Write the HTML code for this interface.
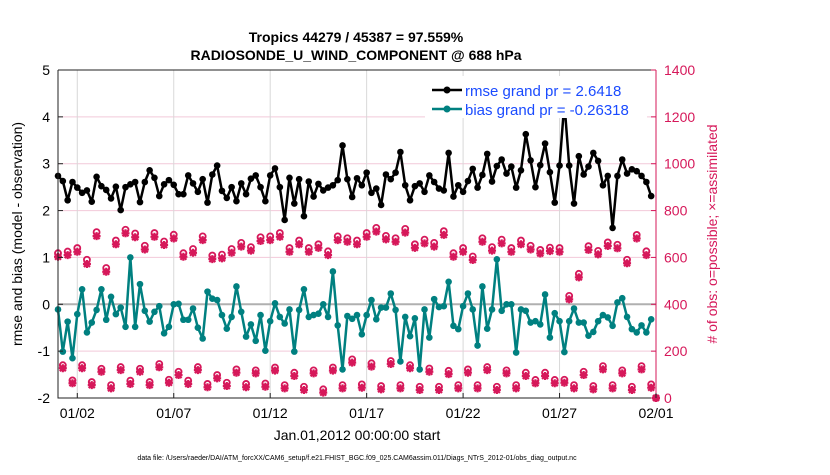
<!DOCTYPE html>
<html><head><meta charset="utf-8"><style>
body{margin:0;background:#fff;}
svg text{font-family:"Liberation Sans",sans-serif;}
</style></head><body>
<svg id="chart" width="830" height="470" xmlns="http://www.w3.org/2000/svg">
<text x="356" y="42" text-anchor="middle" font-size="14" font-weight="bold">Tropics 44279 / 45387 = 97.559%</text>
<text x="356" y="60" text-anchor="middle" font-size="14" font-weight="bold">RADIOSONDE_U_WIND_COMPONENT @ 688 hPa</text>
<g id="grid"></g>
<g id="marks"></g>
<g id="axes"></g>
<text transform="translate(22,234) rotate(-90)" text-anchor="middle" font-size="14">rmse and bias (model - observation)</text>
<text transform="translate(717,234) rotate(-90)" text-anchor="middle" font-size="14" fill="#d6185a"># of obs: o=possible; ×=assimilated</text>
<text x="357" y="440" text-anchor="middle" font-size="14">Jan.01,2012 00:00:00 start</text>
<text x="357" y="460" text-anchor="middle" font-size="7">data file: /Users/raeder/DAI/ATM_forcXX/CAM6_setup/f.e21.FHIST_BGC.f09_025.CAM6assim.011/Diags_NTrS_2012-01/obs_diag_output.nc</text>
<g>
<rect x="425" y="76" width="222" height="42" fill="#fff"/>
<line x1="432" y1="90" x2="462" y2="90" stroke="#000" stroke-width="2.5"/>
<circle cx="447" cy="90" r="3.5" fill="#000"/>
<text x="465" y="96" font-size="15" fill="#1a4bff">rmse grand pr = 2.6418</text>
<line x1="432" y1="109" x2="462" y2="109" stroke="#008080" stroke-width="2.5"/>
<circle cx="447" cy="109" r="3.5" fill="#008080"/>
<text x="465" y="115" font-size="15" fill="#1a4bff">bias grand pr = -0.26318</text>
</g>
</svg>
<script>
const rmse=[2.74,2.63,2.22,2.61,2.49,2.38,2.43,2.19,2.72,2.52,2.44,2.26,2.51,2.01,2.5,2.56,2.61,2.18,2.61,2.86,2.7,2.31,2.56,2.65,2.55,2.35,2.35,2.75,2.58,2.4,2.67,2.17,2.77,2.96,2.42,2.27,2.5,2.2,2.58,2.35,2.68,2.75,
2.5,2.2,2.75,2.9,2.5,1.8,2.7,2.15,2.67,1.88,2.62,2.3,2.57,2.43,2.49,2.54,2.65,3.39,2.67,2.29,2.69,2.54,2.81,2.38,2.47,2.12,2.77,2.67,2.81,3.25,2.54,2.22,2.52,2.58,2.4,2.75,2.61,2.47,2.43,3.23,2.3,2.54,
2.4,2.63,2.89,2.49,2.76,3.21,2.62,2.95,3.09,2.79,2.94,2.49,2.86,3.63,3.07,2.5,2.97,3.43,2.82,2.17,2.96,4.3,2.96,2.15,3.16,2.77,2.94,3.23,3.06,2.54,2.74,1.63,2.74,3.09,2.79,2.88,2.84,2.74,2.61,2.31];
const bias=[-0.11,-1.01,-0.37,-1.15,-0.21,0.32,-0.6,-0.39,-0.12,0.32,-0.33,0.16,-0.21,-0.07,-0.48,1.0,-0.48,0.43,-0.14,-0.37,-0.16,-0.04,-0.62,-0.48,0,0.01,-0.33,-0.33,-0.09,-0.5,-0.73,0.27,0.12,0.09,-0.23,-0.52,-0.27,0.38,-0.16,-0.69,-0.43,-0.78,
-0.23,-0.99,-0.36,0.02,-0.27,-0.41,-0.11,-1.01,-0.12,0.32,-0.27,-0.23,-0.2,0,-0.27,0.7,-0.45,-1.39,-0.25,-0.31,-0.23,-0.64,-0.23,0.09,-0.32,-0.07,-0.07,0.23,-0.12,-1.22,-0.27,-0.68,-0.3,-1.39,-0.11,-0.71,0.11,-0.06,-0.04,0.48,-0.46,
-0.53,-0.04,0.23,-0.11,-0.88,0.38,-0.52,-0.11,0.96,-0.14,0,0,-1.03,-0.11,-0.14,-0.39,-0.36,-0.43,0.21,-0.71,-0.19,-0.36,-1.02,-0.36,-0.09,-0.39,-0.39,-0.67,-0.59,-0.36,-0.23,-0.28,-0.46,0.04,0.13,-0.27,-0.53,-0.6,-0.45,-0.6,-0.32];
const obsAssim=[603,127,610,63,624,127,572,55,691,112,539,41,656,119,703,60,686,112,634,55,688,131,653,65,681,98,603,60,620,119,674,46,593,84,596,51,620,108,646,46,629,105,
670,48,674,117,688,41,624,94,656,34,624,105,641,23,610,117,674,41,667,151,656,44,688,134,710,37,677,145,667,41,706,127,641,34,660,112,646,34,696,102,603,41,
624,108,589,41,667,119,629,34,660,105,624,41,656,94,634,63,617,94,627,63,624,65,421,41,515,98,632,37,613,122,649,41,639,105,575,34,681,122,610,44,0];
const obsPossible=[618,140,625,75,640,140,590,68,708,125,555,55,672,132,718,74,702,125,650,68,704,145,668,78,697,112,618,74,636,132,690,60,608,98,612,65,636,122,662,60,644,118,
686,62,690,130,704,55,640,108,672,48,640,118,656,37,626,130,690,55,682,165,672,58,704,148,726,51,692,158,682,55,722,140,656,48,676,126,662,48,712,116,618,55,
640,122,604,55,682,132,644,48,676,118,640,55,672,108,650,77,632,108,642,77,640,78,436,55,530,112,648,51,628,136,664,55,654,118,590,48,696,136,626,58,0];
const xTickDays=[1,6,11,16,21,26,31];
const xTickLabels=["01/02","01/07","01/12","01/17","01/22","01/27","02/01"];
const yTicks=[-2,-1,0,1,2,3,4,5];
const rTicks=[0,200,400,600,800,1000,1200,1400];

const X0=58,X1=656,Y0=70,Y1=398;
const xs=d=>X0+(d/31)*(X1-X0);
const ys=v=>Y0+(5-v)/7*(Y1-Y0);
const yr=c=>Y1-c/1400*(Y1-Y0);
const xi=i=>xs(i*0.25);
const NS="http://www.w3.org/2000/svg";
function mk(tag,attrs,parent){const e=document.createElementNS(NS,tag);for(const k in attrs)e.setAttribute(k,attrs[k]);parent.appendChild(e);return e;}
const grid=document.getElementById('grid'),marks=document.getElementById('marks'),axes=document.getElementById('axes');

yTicks.forEach(v=>{
  if(v===0||v===5||v===-2)return;
  const l=mk('line',{x1:X0,x2:X1,y1:ys(v),y2:ys(v),stroke:'#f2c9d9','stroke-width':1},grid);
  
  
});
xTickDays.forEach(d=>{
  const l=mk('line',{x1:xs(d),x2:xs(d),y1:Y0,y2:Y1,stroke:'#d8d8d8','stroke-width':1},grid);
  
  
});
const zl=mk('line',{x1:X0,x2:X1,y1:ys(0),y2:ys(0),stroke:'#b0b0b0','stroke-width':2},grid);



obsPossible.forEach((c,i)=>{
  const g=mk('g',{},marks);
  
  
  mk('circle',{cx:xi(i),cy:yr(c),r:3,fill:'none',stroke:'#d6185a','stroke-width':1.8},g);
});
obsAssim.forEach((c,i)=>{
  const x=xi(i),y=yr(c),s=4;
  const p=mk('path',{d:`M${x-s},${y}H${x+s}M${x},${y-s}V${y+s}M${x-3},${y-3}L${x+3},${y+3}M${x-3},${y+3}L${x+3},${y-3}`,stroke:'#d6185a','stroke-width':2.2,fill:'none'},marks);
  
  
});

function series(arr,color,name){
  const pl=mk('polyline',{points:arr.map((v,i)=>xi(i)+','+ys(v)).join(' '),fill:'none',stroke:color,'stroke-width':2.5,'stroke-linejoin':'round'},marks);
  
  
  arr.forEach((v,i)=>{
    const c=mk('circle',{cx:xi(i),cy:ys(v),r:3.3,fill:color},marks);
    
    
  });
}
series(bias,'#008080','bias');
series(rmse,'#000000','rmse');

const fr=mk('path',{d:`M${X0},${Y0}V${Y1}H${X1}M${X0},${Y0}H${X1}`,stroke:'#222',fill:'none','stroke-width':1},axes);


const ra=mk('line',{x1:X1,x2:X1,y1:Y0,y2:Y1,stroke:'#d6185a','stroke-width':1},axes);


yTicks.forEach(v=>{
  mk('line',{x1:X0,x2:X0+5,y1:ys(v),y2:ys(v),stroke:'#222'},axes);
  const t=mk('text',{x:X0-8,y:ys(v)+5,'text-anchor':'end','font-size':14},axes);
  t.textContent=v;
  
  
});
rTicks.forEach(c=>{
  mk('line',{x1:X1-5,x2:X1,y1:yr(c),y2:yr(c),stroke:'#d6185a'},axes);
  const t=mk('text',{x:X1+8,y:yr(c)+5,'font-size':14,fill:'#d6185a'},axes);
  t.textContent=c;
  
  
});
xTickDays.forEach((d,k)=>{
  mk('line',{x1:xs(d),x2:xs(d),y1:Y1,y2:Y1-5,stroke:'#222'},axes);
  const t=mk('text',{x:xs(d),y:Y1+20,'text-anchor':'middle','font-size':14},axes);
  t.textContent=xTickLabels[k];
  
  
});
</script>
</body></html>
